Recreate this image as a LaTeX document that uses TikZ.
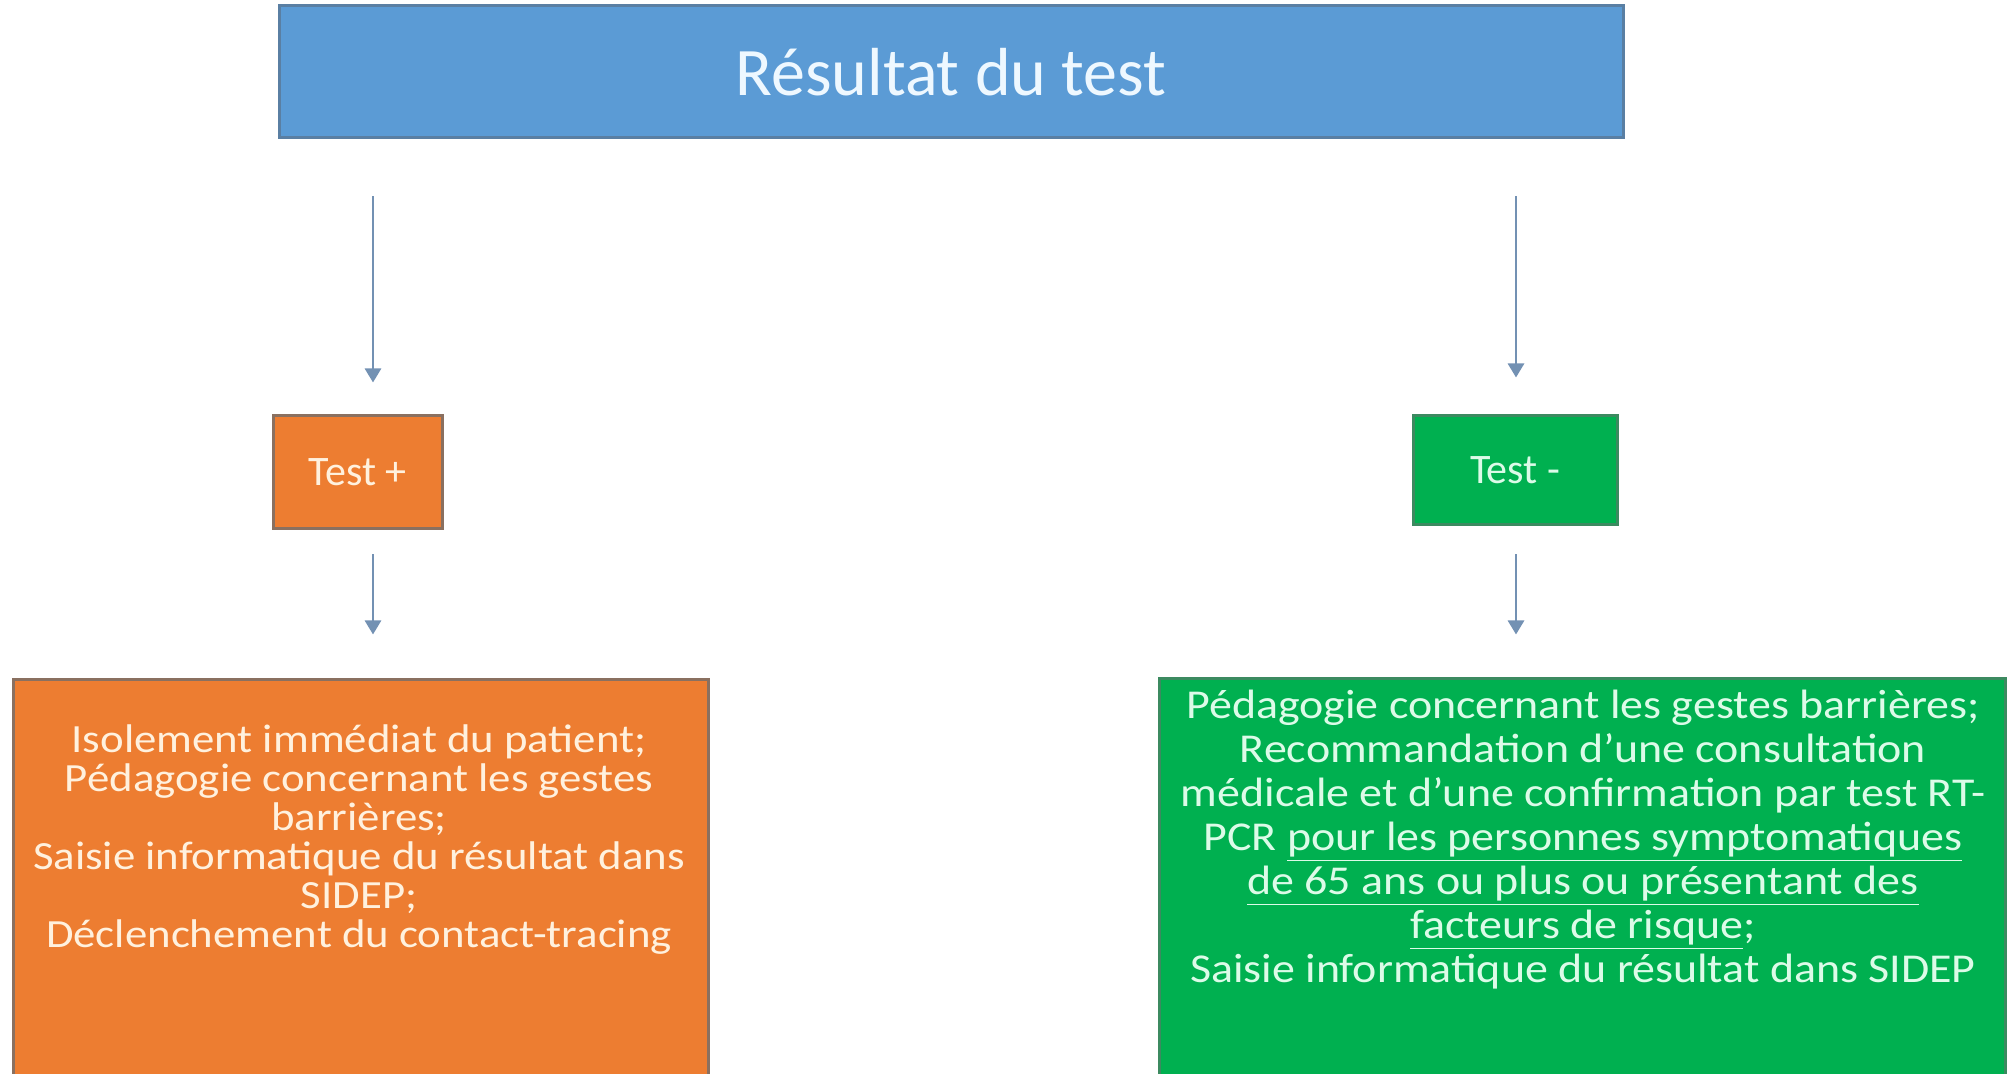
\documentclass[tikz,border=0pt]{standalone}
\usepackage{fontspec}
\setmainfont{Carlito}
\newfontfamily\widefont[FakeStretch=1.12]{Carlito}
\usepackage{xcolor}
\usepackage{tikz}
\usetikzlibrary{positioning}
\usetikzlibrary{arrows.meta}

\definecolor{titleblue}{HTML}{5B9BD5}
\definecolor{titleedge}{HTML}{5A7FA3}
\definecolor{titletext}{HTML}{EEF8FF}
\definecolor{posorange}{HTML}{ED7D31}
\definecolor{posedge}{HTML}{8A7060}
\definecolor{postext}{HTML}{FFF1DE}
\definecolor{neggreen}{HTML}{00B050}
\definecolor{negedge}{HTML}{3C8A60}
\definecolor{negtext}{HTML}{DCFBE8}
\definecolor{arrowblue}{HTML}{7391B3}

\begin{document}
\begin{tikzpicture}[
    x = .5pt,
    y = -.5pt,
    titlef/.style = {
      rectangle,
      draw=titleedge,
      fill=titleblue,
      line width=1.5pt,
      minimum width=672pt,
      minimum height=66pt,
      text=titletext,
      font=\fontsize{34}{40}\selectfont
    },
    posf/.style = {
      rectangle,
      draw=posedge,
      fill=posorange,
      line width=1.5pt,
      text=postext
    },
    negf/.style = {
      rectangle,
      draw=negedge,
      fill=neggreen,
      line width=1.5pt,
      text=negtext
    },
    smallf/.style = {
      font=\fontsize{21}{24}\selectfont
    },
    bodyf/.style = {
      align=center,
      inner sep=0pt
    },
    arr/.style = {
      -{Triangle[length=7pt,width=8pt]},
      draw=arrowblue,
      line width=1.4pt
    }
  ]
    \useasboundingbox (0,0) rectangle (2008,1074);

    \node[titlef] (title) at (951,72) {Résultat du test};
    \node[posf, smallf, minimum width=84.5pt, minimum height=56.5pt] (testp) at (357.5,472.5) {Test +};
    \node[negf, smallf, minimum width=102pt, minimum height=54.5pt] (testm) at (1515,470.5) {Test -};

    \node[posf, minimum width=347.5pt, minimum height=198pt] (posbox) at (360.5,877) {};
    \node[negf, minimum width=423pt, minimum height=200pt] (negbox) at (1582,878) {};

    \node[bodyf, text=postext, font={\widefont\fontsize{20}{19.5}\selectfont\lineskiplimit=-50pt\relax}] (postxt) at (359,840) {Isolement immédiat du patient;\\
      Pédagogie concernant les gestes\\
      barrières;\\
      Saisie informatique du résultat dans\\
      SIDEP;\\
      Déclenchement du contact-tracing};
    \node[bodyf, text=negtext, font={\widefont\fontsize{20.5}{22}\selectfont\lineskiplimit=-50pt\relax}] (negtxt) at (1583,840) {Pédagogie concernant les gestes barrières;\\
      Recommandation d’une consultation\\
      médicale et d’une confirmation par test RT-\\
      PCR \underline{pour les personnes symptomatiques}\\
      \underline{de 65 ans ou plus ou présentant des}\\
      \underline{facteurs de risque};\\
      Saisie informatique du résultat dans SIDEP};

    \coordinate (colL) at (373,0);
    \coordinate (colR) at (1516,0);

    \draw[arr, shorten <=28.5pt, shorten >=16pt] (title.south -| colL) -- (testp.north -| colL);
    \draw[arr, shorten <=28.5pt, shorten >=18.5pt] (title.south -| colR) -- (testm.north -| colR);
    \draw[arr, shorten <=12pt, shorten >=21.5pt] (testp.south -| colL) -- (posbox.north -| colL);
    \draw[arr, shorten <=14pt, shorten >=21pt] (testm.south -| colR) -- (negbox.north -| colR);

  \end{tikzpicture}
\end{document}
